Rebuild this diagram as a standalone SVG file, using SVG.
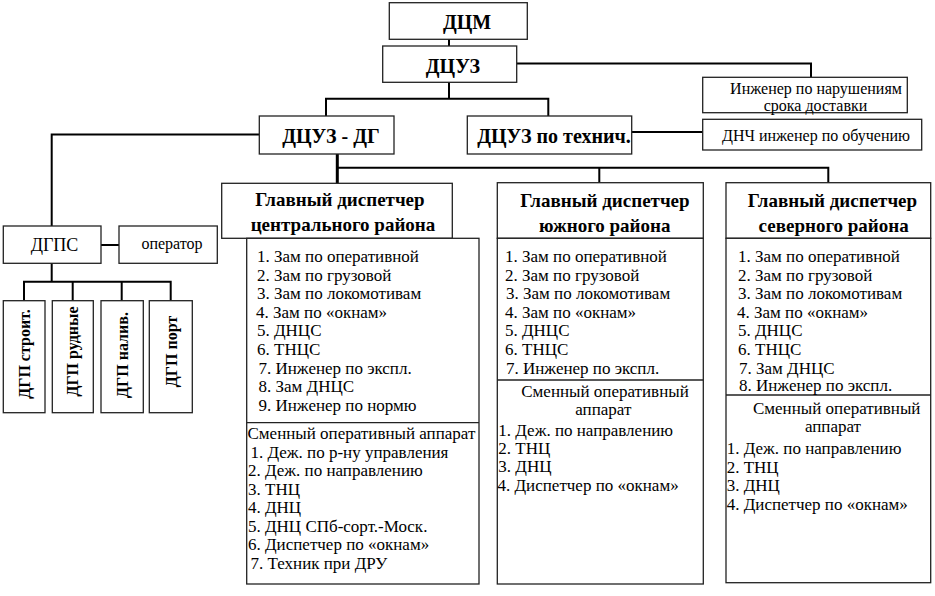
<svg xmlns="http://www.w3.org/2000/svg" width="935" height="596" viewBox="0 0 935 596">
<style>
.box{fill:#fff;stroke:#222;stroke-width:1.3}
.ln{fill:none;stroke:#000;stroke-width:2}
.thick{fill:none;stroke:#000;stroke-width:3}
.b{font-weight:bold}
.big{font-size:20px}
.hd{font-size:19px;text-anchor:middle}
.it{font-size:17px}
.sm{font-size:16px}
.mid{text-anchor:middle}
.rot{font-size:16px;font-weight:bold;text-anchor:middle}
</style>
<rect width="935" height="596" fill="#fff"/>
<g id="connectors">
<path class="ln" d="M449,39 V46"/>
<path class="ln" d="M517,63.5 H811 V77"/>
<path class="ln" d="M326,116 V98.7 H548.3 V116 M449,82 V98.7"/>
<path class="ln" d="M631.7,132 H703"/>
<path class="ln" d="M259,134.5 H51.7 V226"/>
<path class="ln" d="M101,245 H119"/>
<path class="ln" d="M51.7,263 V281.7 M24,300.7 V281.7 H170.7 V300.7 M72.7,281.7 V300.7 M121.7,281.7 V300.7"/>
<path class="thick" d="M337.3,154 V183.3"/>
<path class="ln" d="M337.3,167.7 H828.3 V182.7 M599.3,167.7 V182.7"/>
</g>
<g id="dcm">
<rect class="box" x="389.3" y="2.7" width="138" height="36.6"/>
<text font-family="Liberation Serif, serif" class="b big mid" x="467" y="29">ДЦМ</text>
</g>
<g id="dcuz">
<rect class="box" x="382.7" y="46" width="134" height="36.3"/>
<text font-family="Liberation Serif, serif" class="b big mid" x="453" y="73">ДЦУЗ</text>
</g>
<g id="dcuz-dg">
<rect class="box" x="259.3" y="116" width="134.7" height="38"/>
<text font-family="Liberation Serif, serif" class="b big mid" x="331" y="143">ДЦУЗ - ДГ</text>
</g>
<g id="dcuz-tech">
<rect class="box" x="467.3" y="116" width="164.4" height="38"/>
<text font-family="Liberation Serif, serif" class="b big mid" x="554" y="143">ДЦУЗ по технич.</text>
</g>
<g id="eng-delivery">
<rect class="box" x="702.7" y="77.3" width="204.6" height="35.4"/>
<text font-family="Liberation Serif, serif" class="sm mid" x="816" y="94">Инженер по нарушениям</text>
<text font-family="Liberation Serif, serif" class="sm mid" x="815.5" y="111">срока доставки</text>
</g>
<g id="dnch">
<rect class="box" x="702.7" y="119.3" width="219" height="30.7"/>
<text font-family="Liberation Serif, serif" class="sm mid" x="816" y="141">ДНЧ инженер по обучению</text>
</g>
<g id="dgps">
<rect class="box" x="3.3" y="226" width="97.7" height="37.3"/>
<text font-family="Liberation Serif, serif" class="mid" x="54.5" y="251" font-size="18">ДГПС</text>
</g>
<g id="operator">
<rect class="box" x="119" y="226" width="98.3" height="37.3"/>
<text font-family="Liberation Serif, serif" class="sm mid" x="172" y="248.5">оператор</text>
</g>
<g id="dgp-stroit">
<rect class="box" x="3.3" y="300.7" width="41.7" height="112"/>
<text font-family="Liberation Serif, serif" class="rot" transform="translate(30,354) rotate(-90)">ДГП строит.</text>
</g>
<g id="dgp-rud">
<rect class="box" x="52.3" y="300.7" width="41" height="112"/>
<text font-family="Liberation Serif, serif" class="rot" transform="translate(77.5,351.5) rotate(-90)">ДГП рудные</text>
</g>
<g id="dgp-naliv">
<rect class="box" x="101" y="300.7" width="42.3" height="112"/>
<text font-family="Liberation Serif, serif" class="rot" transform="translate(127.5,355) rotate(-90)">ДГП налив.</text>
</g>
<g id="dgp-port">
<rect class="box" x="149.3" y="300.7" width="43" height="112"/>
<text font-family="Liberation Serif, serif" class="rot" transform="translate(176.5,351.5) rotate(-90)">ДГП порт</text>
</g>
<g id="central">
<rect class="box" x="221.7" y="183.3" width="230.6" height="55"/>
<text font-family="Liberation Serif, serif" class="b hd" x="340" y="206">Главный диспетчер</text>
<text font-family="Liberation Serif, serif" class="b hd" x="343" y="231">центрального района</text>
<rect class="box" x="246.7" y="238.3" width="232.3" height="345.7"/>
<line class="box" x1="246.7" y1="422.7" x2="479" y2="422.7"/>
<text font-family="Liberation Serif, serif" class="it" x="257" y="262">1. Зам по оперативной</text>
<text font-family="Liberation Serif, serif" class="it" x="257" y="280.6">2. Зам по грузовой</text>
<text font-family="Liberation Serif, serif" class="it" x="257" y="299.2">3. Зам по локомотивам</text>
<text font-family="Liberation Serif, serif" class="it" x="256" y="317.8">4. Зам по «окнам»</text>
<text font-family="Liberation Serif, serif" class="it" x="257" y="336.4">5. ДНЦС</text>
<text font-family="Liberation Serif, serif" class="it" x="257" y="355">6. ТНЦС</text>
<text font-family="Liberation Serif, serif" class="it" x="258.5" y="373.6">7. Инженер по экспл.</text>
<text font-family="Liberation Serif, serif" class="it" x="258.5" y="392.2">8. Зам ДНЦС</text>
<text font-family="Liberation Serif, serif" class="it" x="258.5" y="410.8">9. Инженер по нормю</text>
<text font-family="Liberation Serif, serif" class="it" x="247.5" y="439">Сменный оперативный аппарат</text>
<text font-family="Liberation Serif, serif" class="it" x="250.5" y="457.5">1. Деж. по р-ну управления</text>
<text font-family="Liberation Serif, serif" class="it" x="248" y="476">2. Деж. по направлению</text>
<text font-family="Liberation Serif, serif" class="it" x="248" y="494.5">3. ТНЦ</text>
<text font-family="Liberation Serif, serif" class="it" x="248" y="513">4. ДНЦ</text>
<text font-family="Liberation Serif, serif" class="it" x="248" y="531.5">5. ДНЦ СПб-сорт.-Моск.</text>
<text font-family="Liberation Serif, serif" class="it" x="248" y="550">6. Диспетчер по «окнам»</text>
<text font-family="Liberation Serif, serif" class="it" x="250.5" y="568.5">7. Техник при ДРУ</text>
</g>
<g id="south">
<rect class="box" x="497.3" y="182.7" width="206" height="55.6"/>
<text font-family="Liberation Serif, serif" class="b hd" x="605" y="207">Главный диспетчер</text>
<text font-family="Liberation Serif, serif" class="b hd" x="604.7" y="231.7">южного района</text>
<rect class="box" x="497.3" y="238.3" width="206" height="345.7"/>
<line class="box" x1="497.3" y1="380" x2="703.3" y2="380"/>
<text font-family="Liberation Serif, serif" class="it" x="505" y="262">1. Зам по оперативной</text>
<text font-family="Liberation Serif, serif" class="it" x="505" y="280.6">2. Зам по грузовой</text>
<text font-family="Liberation Serif, serif" class="it" x="506" y="299.2">3. Зам по локомотивам</text>
<text font-family="Liberation Serif, serif" class="it" x="505" y="317.8">4. Зам по «окнам»</text>
<text font-family="Liberation Serif, serif" class="it" x="505" y="336.4">5. ДНЦС</text>
<text font-family="Liberation Serif, serif" class="it" x="505" y="355">6. ТНЦС</text>
<text font-family="Liberation Serif, serif" class="it" x="506" y="373.6">7. Инженер по экспл.</text>
<text font-family="Liberation Serif, serif" class="it mid" x="605" y="397.3">Сменный оперативный</text>
<text font-family="Liberation Serif, serif" class="it mid" x="603.3" y="415">аппарат</text>
<text font-family="Liberation Serif, serif" class="it" x="498.3" y="435.7">1. Деж. по направлению</text>
<text font-family="Liberation Serif, serif" class="it" x="498.3" y="454">2. ТНЦ</text>
<text font-family="Liberation Serif, serif" class="it" x="498.3" y="472.4">3. ДНЦ</text>
<text font-family="Liberation Serif, serif" class="it" x="497.5" y="490.7">4. Диспетчер по «окнам»</text>
</g>
<g id="north">
<rect class="box" x="726" y="182.7" width="204.7" height="55.6"/>
<text font-family="Liberation Serif, serif" class="b hd" x="832.5" y="207">Главный диспетчер</text>
<text font-family="Liberation Serif, serif" class="b hd" x="833.7" y="231.7">северного района</text>
<rect class="box" x="726" y="238.3" width="204.7" height="344.4"/>
<line class="box" x1="726" y1="395" x2="930.7" y2="395"/>
<text font-family="Liberation Serif, serif" class="it" x="738" y="262">1. Зам по оперативной</text>
<text font-family="Liberation Serif, serif" class="it" x="738" y="280.6">2. Зам по грузовой</text>
<text font-family="Liberation Serif, serif" class="it" x="738" y="299.2">3. Зам по локомотивам</text>
<text font-family="Liberation Serif, serif" class="it" x="737" y="317.8">4. Зам по «окнам»</text>
<text font-family="Liberation Serif, serif" class="it" x="738" y="336.4">5. ДНЦС</text>
<text font-family="Liberation Serif, serif" class="it" x="738" y="355">6. ТНЦС</text>
<text font-family="Liberation Serif, serif" class="it" x="739" y="373.6">7. Зам ДНЦС</text>
<text font-family="Liberation Serif, serif" class="it" x="739" y="391">8. Инженер по экспл.</text>
<text font-family="Liberation Serif, serif" class="it mid" x="836.7" y="414">Сменный оперативный</text>
<text font-family="Liberation Serif, serif" class="it mid" x="833" y="431.7">аппарат</text>
<text font-family="Liberation Serif, serif" class="it" x="726.7" y="454">1. Деж. по направлению</text>
<text font-family="Liberation Serif, serif" class="it" x="726.7" y="472.5">2. ТНЦ</text>
<text font-family="Liberation Serif, serif" class="it" x="726.7" y="491">3. ДНЦ</text>
<text font-family="Liberation Serif, serif" class="it" x="726.7" y="509.5">4. Диспетчер по «окнам»</text>
</g>
</svg>
